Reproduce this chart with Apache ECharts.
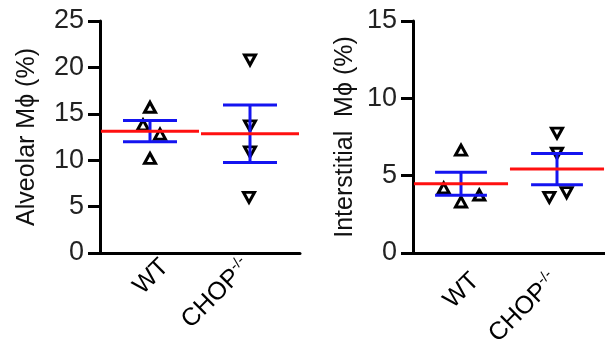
<!DOCTYPE html>
<html>
<head>
<meta charset="utf-8">
<script src="https://cdn.jsdelivr.net/npm/echarts@6/dist/echarts.min.js"></script>
<style>
html, body { margin: 0; padding: 0; background: #fff; }
#main { width: 605px; height: 354px; }
</style>
</head>
<body>
<div id="main"></div>
<script>
// groups sit at x = 0.5 and 1.5 on a 0..2 value axis
var groups = ['WT', 'CHOP-/-'];
var groupPos = [0.5, 1.5];

// alveolar macrophages (%)
var alvWT = [15.7, 13.8, 12.8, 10.2];
var alvCHOP = [20.8, 13.7, 10.9, 6.0];
var alvJitterWT = [0, -0.07, 0.1, 0];
var alvJitterCHOP = [0, 0, 0, -0.01];

// interstitial macrophages (%)
var intWT = [6.65, 4.2, 3.3, 3.75];
var intCHOP = [7.75, 6.45, 3.6, 3.9];
var intJitterWT = [0, -0.18, 0, 0.19];
var intJitterCHOP = [0, 0, -0.08, 0.1];

var alvTicks = [0, 5, 10, 15, 20, 25];
var intTicks = [0, 5, 10, 15];

var font = "'Liberation Sans', Arial, sans-serif";

function mean(a) {
    var s = 0;
    for (var i = 0; i < a.length; i++) s += a[i];
    return s / a.length;
}
function sem(a) {
    var m = mean(a), s = 0;
    for (var i = 0; i < a.length; i++) s += (a[i] - m) * (a[i] - m);
    return Math.sqrt(s / (a.length - 1)) / Math.sqrt(a.length);
}
function points(vals, jit, pos) {
    var out = [];
    for (var i = 0; i < vals.length; i++) out.push([pos + jit[i], vals[i]]);
    return out;
}

function renderMean(params, api) {
    var c = api.value(0), m = api.value(1), s = api.value(2);
    var p0 = api.coord([c - 0.49, m]), p1 = api.coord([c + 0.49, m]);
    var top = api.coord([c, m + s]), bot = api.coord([c, m - s]);
    var capL = api.coord([c - 0.27, m])[0], capR = api.coord([c + 0.27, m])[0];
    var blue = { stroke: '#1414f0', lineWidth: 3 };
    return {
        type: 'group',
        children: [
            { type: 'line', shape: { x1: top[0], y1: top[1], x2: bot[0], y2: bot[1] }, style: blue },
            { type: 'line', shape: { x1: capL, y1: top[1], x2: capR, y2: top[1] }, style: blue },
            { type: 'line', shape: { x1: capL, y1: bot[1], x2: capR, y2: bot[1] }, style: blue },
            { type: 'line', shape: { x1: p0[0], y1: p0[1], x2: p1[0], y2: p1[1] }, style: { stroke: '#ff1010', lineWidth: 3 } }
        ]
    };
}

function xAxis(idx, margin) {
    return {
        type: 'value', gridIndex: idx, min: 0, max: 2,
        splitLine: { show: false },
        axisLine: { lineStyle: { color: '#000', width: 3 } },
        axisTick: { show: false },
        axisLabel: {
            customValues: [0.65, 1.47],
            rotate: 45,
            margin: margin,
            color: '#000',
            fontFamily: font,
            fontSize: 25,
            formatter: function (v) {
                return v < 1 ? '{a|' + groups[0] + '}' : '{a|CHOP}{b|-/-}';
            },
            rich: {
                a: { fontSize: 25, fontFamily: font, color: '#000', lineHeight: 28 },
                b: { fontSize: 15, fontFamily: font, color: '#000', verticalAlign: 'top', lineHeight: 28 }
            }
        }
    };
}

function yAxis(idx, ticks, name, gap) {
    return {
        type: 'value', gridIndex: idx,
        min: 0, max: ticks[ticks.length - 1], interval: 5,
        name: name, nameLocation: 'middle', nameGap: gap,
        nameTextStyle: { fontSize: 25, fontFamily: font, color: '#111' },
        splitLine: { show: false },
        axisLine: { lineStyle: { color: '#000', width: 3 } },
        axisTick: { length: 12, lineStyle: { color: '#000', width: 3 } },
        axisLabel: { fontSize: 27, fontFamily: font, color: '#222', margin: 16 }
    };
}

function scatter(idx, data, rot) {
    return {
        type: 'scatter', xAxisIndex: idx, yAxisIndex: idx, z: 2,
        symbol: 'triangle', symbolSize: [11, 10], symbolRotate: rot,
        itemStyle: { color: '#fff', borderColor: '#000', borderWidth: 3, opacity: 1 },
        data: data
    };
}

var myChart = echarts.init(document.getElementById('main'));

var option = {
    animation: false,
    grid: [
        { left: 100, top: 21, width: 200, height: 232 },
        { left: 413, top: 21, width: 200, height: 232 }
    ],
    xAxis: [xAxis(0, 10), xAxis(1, 24)],
    yAxis: [
        yAxis(0, alvTicks, 'Alveolar M\u03D5 (%)', 60),
        yAxis(1, intTicks, 'Interstitial  M\u03D5 (%)', 55)
    ],
    series: [
        scatter(0, points(alvWT, alvJitterWT, groupPos[0]), 0),
        scatter(0, points(alvCHOP, alvJitterCHOP, groupPos[1]), 180),
        scatter(1, points(intWT, intJitterWT, groupPos[0]), 0),
        scatter(1, points(intCHOP, intJitterCHOP, groupPos[1]), 180),
        {
            type: 'custom', xAxisIndex: 0, yAxisIndex: 0, z: 3,
            renderItem: renderMean,
            data: [
                [groupPos[0], mean(alvWT), sem(alvWT)],
                [groupPos[1], mean(alvCHOP), sem(alvCHOP)]
            ]
        },
        {
            type: 'custom', xAxisIndex: 1, yAxisIndex: 1, z: 3,
            renderItem: renderMean,
            data: [
                [groupPos[0], mean(intWT), sem(intWT)],
                [groupPos[1], mean(intCHOP), sem(intCHOP)]
            ]
        }
    ]
};

myChart.setOption(option);
</script>
</body>
</html>
